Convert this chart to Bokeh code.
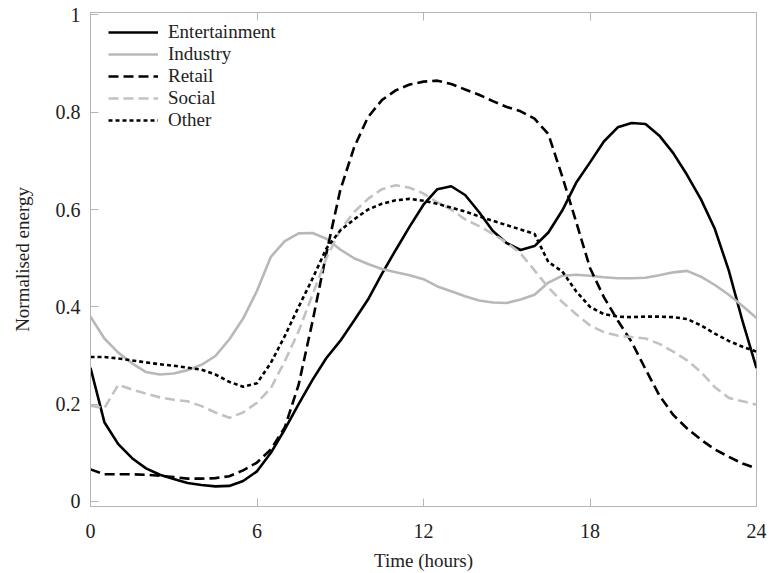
from bokeh.plotting import figure
from bokeh.models import LinearAxis, FixedTicker, Legend, LegendItem, Range1d
from bokeh.embed import file_html
from bokeh.resources import INLINE

hours = [0, 0.5, 1, 1.5, 2, 2.5, 3, 3.5, 4, 4.5, 5, 5.5, 6, 6.5, 7, 7.5, 8, 8.5,
         9, 9.5, 10, 10.5, 11, 11.5, 12, 12.5, 13, 13.5, 14, 14.5, 15, 15.5, 16,
         16.5, 17, 17.5, 18, 18.5, 19, 19.5, 20, 20.5, 21, 21.5, 22, 22.5, 23,
         23.5, 24]

entertainment = [0.275, 0.163, 0.118, 0.089, 0.068, 0.055, 0.046, 0.038, 0.034,
                 0.031, 0.032, 0.042, 0.062, 0.100, 0.148, 0.200, 0.250, 0.295,
                 0.330, 0.372, 0.415, 0.468, 0.517, 0.565, 0.610, 0.642, 0.648,
                 0.630, 0.595, 0.556, 0.531, 0.517, 0.525, 0.553, 0.598, 0.655,
                 0.697, 0.740, 0.769, 0.778, 0.776, 0.752, 0.716, 0.671, 0.621,
                 0.560, 0.475, 0.370, 0.274]

industry = [0.380, 0.335, 0.306, 0.284, 0.266, 0.261, 0.263, 0.270, 0.281, 0.299,
            0.333, 0.376, 0.433, 0.503, 0.535, 0.551, 0.552, 0.540, 0.518, 0.500,
            0.488, 0.478, 0.471, 0.465, 0.457, 0.442, 0.432, 0.422, 0.413, 0.409,
            0.408, 0.415, 0.425, 0.450, 0.464, 0.466, 0.464, 0.461, 0.459, 0.459,
            0.460, 0.465, 0.471, 0.474, 0.462, 0.445, 0.425, 0.402, 0.377]

retail = [0.066, 0.056, 0.056, 0.056, 0.055, 0.053, 0.050, 0.047, 0.047, 0.048,
          0.052, 0.064, 0.080, 0.107, 0.152, 0.240, 0.370, 0.510, 0.640, 0.728,
          0.790, 0.825, 0.845, 0.857, 0.863, 0.865, 0.858, 0.847, 0.836, 0.823,
          0.811, 0.802, 0.787, 0.755, 0.668, 0.575, 0.480, 0.420, 0.372, 0.328,
          0.272, 0.218, 0.178, 0.150, 0.127, 0.107, 0.092, 0.078, 0.068]

social = [0.197, 0.192, 0.240, 0.230, 0.222, 0.214, 0.209, 0.206, 0.196, 0.183,
          0.172, 0.183, 0.203, 0.233, 0.288, 0.350, 0.425, 0.500, 0.558, 0.595,
          0.622, 0.642, 0.650, 0.645, 0.633, 0.615, 0.600, 0.580, 0.566, 0.550,
          0.532, 0.510, 0.475, 0.440, 0.410, 0.385, 0.362, 0.348, 0.341, 0.338,
          0.335, 0.324, 0.308, 0.290, 0.266, 0.235, 0.213, 0.206, 0.199]

other = [0.297, 0.297, 0.294, 0.290, 0.286, 0.282, 0.279, 0.275, 0.271, 0.261,
         0.246, 0.236, 0.243, 0.285, 0.340, 0.400, 0.458, 0.520, 0.557, 0.580,
         0.600, 0.612, 0.619, 0.622, 0.618, 0.612, 0.604, 0.596, 0.586, 0.577,
         0.568, 0.559, 0.550, 0.492, 0.473, 0.432, 0.400, 0.385, 0.380, 0.379,
         0.380, 0.380, 0.379, 0.375, 0.362, 0.345, 0.330, 0.318, 0.308]

x_ticks = [0, 6, 12, 18, 24]
y_ticks = [0, 0.2, 0.4, 0.6, 0.8, 1]
y_tick_labels = ["0", "0.2", "0.4", "0.6", "0.8", "1"]
series_names = ["Entertainment", "Industry", "Retail", "Social", "Other"]

FONT = "'Liberation Serif', 'Times New Roman', serif"
AXIS_GRAY = "#b5b5b5"

p = figure(width=775, height=573,
           x_range=Range1d(0, 24), y_range=Range1d(-0.0103, 1.0051),
           output_backend="svg", toolbar_location=None,
           min_border_left=90, min_border_right=19,
           min_border_top=12, min_border_bottom=66,
           x_axis_label="Time (hours)", y_axis_label="Normalised energy")
p.xgrid.visible = False
p.ygrid.visible = False
p.outline_line_color = AXIS_GRAY
p.outline_line_width = 1

for ax in (p.xaxis[0], p.yaxis[0]):
    ax.axis_line_color = AXIS_GRAY
    ax.major_tick_line_color = AXIS_GRAY
    ax.major_tick_in = 8
    ax.major_tick_out = 0
    ax.minor_tick_line_color = None
    ax.major_label_text_font = FONT
    ax.major_label_text_font_size = "20px"
    ax.major_label_text_color = "#222222"
    ax.axis_label_text_font = FONT
    ax.axis_label_text_font_style = "normal"
    ax.axis_label_text_font_size = "19px"
    ax.axis_label_text_color = "#222222"

p.xaxis[0].ticker = FixedTicker(ticks=x_ticks)
p.xaxis[0].major_label_standoff = 17
p.xaxis[0].axis_label_standoff = 9
p.yaxis[0].ticker = FixedTicker(ticks=y_ticks)
p.yaxis[0].major_label_overrides = {t: s for t, s in zip(y_ticks, y_tick_labels)}
p.yaxis[0].major_label_standoff = 10
p.yaxis[0].axis_label_standoff = 20

# top frame edge: inward ticks only, no labels
top = LinearAxis(ticker=FixedTicker(ticks=x_ticks[1:-1]),
                 major_label_text_font_size="1px", major_label_text_color=None,
                 major_label_standoff=0,
                 major_tick_in=8, major_tick_out=0,
                 major_tick_line_color=AXIS_GRAY, axis_line_color=None,
                 minor_tick_line_color=None)
p.add_layout(top, "above")

r_ent = p.line(hours, entertainment, line_color="black", line_width=2.6)
r_ind = p.line(hours, industry, line_color="#b8b8b8", line_width=2.6)
r_ret = p.line(hours, retail, line_color="black", line_width=2.6, line_dash="10 5")
r_soc = p.line(hours, social, line_color="#c2c2c2", line_width=2.6, line_dash="10 5")
r_oth = p.line(hours, other, line_color="black", line_width=2.6, line_dash="4 3")

legend = Legend(items=[LegendItem(label=n, renderers=[r])
                       for n, r in zip(series_names, [r_ent, r_ind, r_ret, r_soc, r_oth])],
                location=(18, 375), glyph_width=50, glyph_height=20,
                label_height=20, spacing=0, padding=0, margin=0,
                border_line_color=None, background_fill_alpha=0,
                label_text_font=FONT, label_text_font_size="19px",
                label_text_color="#222222", label_standoff=10)
p.add_layout(legend)

open("out.html", "w").write(file_html(p, INLINE))
